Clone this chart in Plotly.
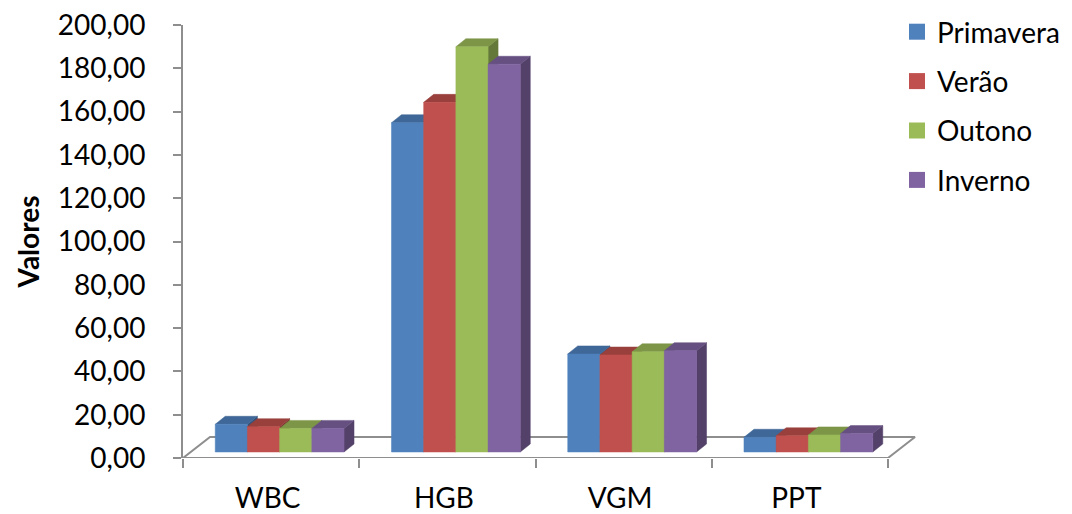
import plotly.graph_objects as go

# ---- data ----
categories = ["WBC", "HGB", "VGM", "PPT"]
series_names = ["Primavera", "Verão", "Outono", "Inverno"]
primavera = [12.8, 152.1, 45.3, 6.8]
verao = [11.7, 161.5, 44.8, 7.5]
outono = [10.9, 187.2, 46.3, 7.9]
inverno = [10.9, 179.1, 46.8, 8.5]
y_ticks = [0, 20, 40, 60, 80, 100, 120, 140, 160, 180, 200]

series_values = [primavera, verao, outono, inverno]
colors = ["#4F81BD", "#C0504D", "#9BBB59", "#8064A2"]


def shade(hexc, f):
    h = hexc.lstrip("#")
    r, g, b = (int(h[i:i + 2], 16) for i in (0, 2, 4))
    return "rgb(%d,%d,%d)" % (r * f, g * f, b * f)


# ---- geometry (pixel-derived constants, converted to data units) ----
# page body has an 8px margin, so the figure is 8px smaller and offset
W_PX, H_PX = 1064, 506
ML, MR, MT, MB = 175, 156, 17, 56
PX_X = 176.25                       # pixels per category
PX_Y = (H_PX - MT - MB) / 200.0     # pixels per value unit
x_max = -0.5 + (W_PX - ML - MR) / PX_X

FDX, FDY = 27 / PX_X, 21 / PX_Y     # floor depth
BDX, BDY = 8.5 / PX_X, 6 / PX_Y     # bar position in depth
DDX, DDY = 10 / PX_X, 8 / PX_Y      # bar depth
BW = 32.2 / PX_X                    # bar width
GRAY = "#8e8e8e"

font = "Lato, 'Open Sans', sans-serif"
FS = 28
fig = go.Figure()

# floor outline
fig.add_trace(go.Scatter(
    x=[-0.5, 3.5, 3.5 + FDX, -0.5 + FDX, -0.5],
    y=[0, 0, FDY, FDY, 0],
    mode="lines", line=dict(color=GRAY, width=2),
    hoverinfo="skip", showlegend=False, cliponaxis=False))

# 3D-ish bars
for si, (vals, col) in enumerate(zip(series_values, colors)):
    sx, sy, tx, ty, fx, fy = [], [], [], [], [], []
    for ci, v in enumerate(vals):
        xl = ci - 2 * BW + BDX + si * BW
        xr = xl + BW
        y0 = BDY
        y1 = BDY + v
        sx += [xr, xr + DDX, xr + DDX, xr, xr, None]
        sy += [y0, y0 + DDY, y1 + DDY, y1, y0, None]
        tx += [xl, xr, xr + DDX, xl + DDX, xl, None]
        ty += [y1, y1, y1 + DDY, y1 + DDY, y1, None]
        fx += [xl, xr, xr, xl, xl, None]
        fy += [y0, y0, y1, y1, y0, None]
    side_c = shade(col, 0.65)
    top_c = shade(col, 0.8)
    fig.add_trace(go.Scatter(x=sx, y=sy, mode="lines", fill="toself",
                             fillcolor=side_c, line=dict(color=side_c, width=0.5),
                             hoverinfo="skip", showlegend=False, cliponaxis=False))
    fig.add_trace(go.Scatter(x=tx, y=ty, mode="lines", fill="toself",
                             fillcolor=top_c, line=dict(color=top_c, width=0.5),
                             hoverinfo="skip", showlegend=False, cliponaxis=False))
    fig.add_trace(go.Scatter(x=fx, y=fy, mode="lines", fill="toself",
                             fillcolor=col, line=dict(color=col, width=0.5),
                             hoverinfo="skip", showlegend=False, cliponaxis=False))

# legend entries
for name, col in zip(series_names, colors):
    fig.add_trace(go.Scatter(x=[None], y=[None], mode="markers", name=name,
                             legendgroup=name,
                             marker=dict(symbol="square", size=17, color=col)))

# invisible trace for category label axis
fig.add_trace(go.Scatter(x=[0, 3], y=[None, None], xaxis="x2", mode="markers",
                         showlegend=False, hoverinfo="skip"))

fig.update_layout(
    width=W_PX, height=H_PX,
    margin=dict(l=ML, r=MR, t=MT, b=MB, autoexpand=False),
    paper_bgcolor="white", plot_bgcolor="white",
    separators=", ",
    font=dict(family=font, size=FS, color="black"),
    xaxis=dict(range=[-0.5, x_max], tickmode="array",
               tickvals=[-0.5, 0.5, 1.5, 2.5, 3.5],
               ticktext=["", "", "", "", ""], automargin=False,
               ticks="outside", ticklen=9, tickcolor=GRAY, tickwidth=2,
               showgrid=False, zeroline=False, showline=False, fixedrange=True),
    xaxis2=dict(range=[-0.5, x_max], overlaying="x", anchor="y", side="bottom",
                tickmode="array", tickvals=[-0.02, 0.98, 1.98, 2.98],
                ticktext=categories, automargin=False,
                ticks="", ticklabelstandoff=21, ticklabeloverflow="allow",
                showgrid=False, zeroline=False, showline=False,
                tickfont=dict(size=FS)),
    yaxis=dict(range=[0, 200.01], tickmode="array", tickvals=y_ticks,
               tickformat=".2f", ticks="outside", ticklen=8, tickwidth=2,
               tickcolor=GRAY, showline=True, linecolor=GRAY, linewidth=2,
               showgrid=False, zeroline=False, ticklabelstandoff=22,
               ticklabeloverflow="allow",
               tickfont=dict(size=FS), automargin=False,
               title=dict(text="<b>Valores</b>", font=dict(size=FS), standoff=10)),
    legend=dict(x=(889 - ML) / (W_PX - ML - MR), xanchor="left",
                y=(H_PX - MB + 1) / (H_PX - MT - MB), yanchor="top",
                font=dict(size=FS), tracegroupgap=10,
                bgcolor="rgba(0,0,0,0)"),
    showlegend=True,
)

fig.write_html("out.html")
